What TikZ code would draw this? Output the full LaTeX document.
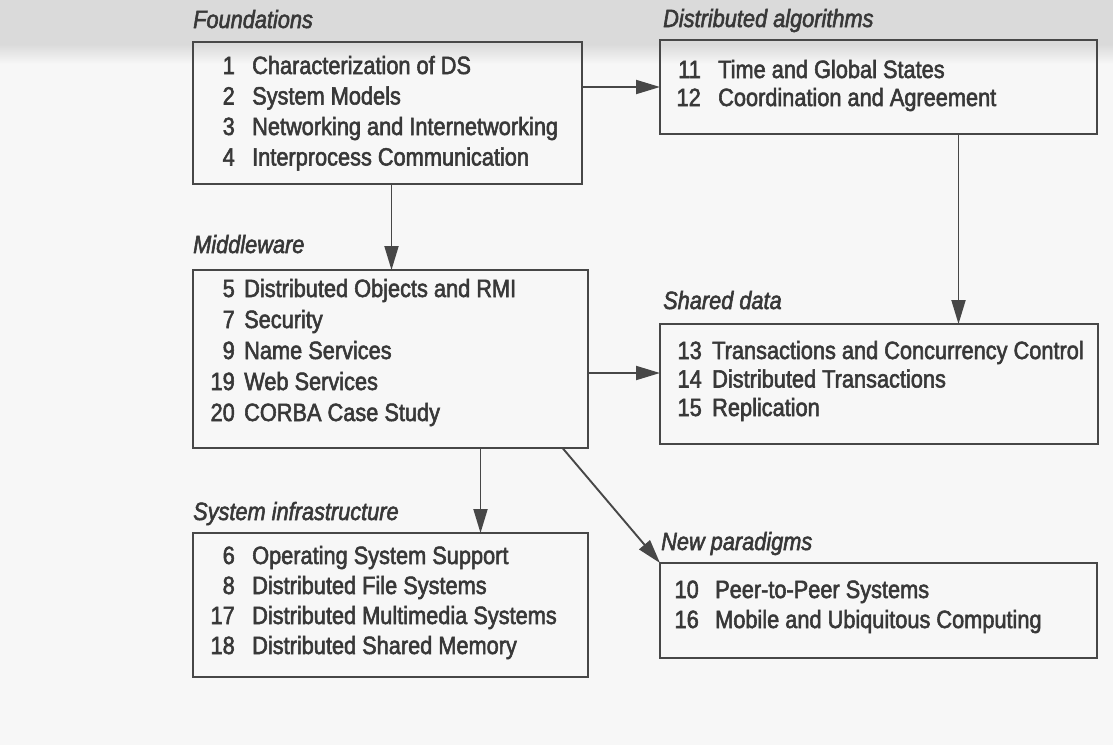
\documentclass[tikz,border=0pt]{standalone}
\usepackage{fontspec}
\usetikzlibrary{arrows.meta}
\newfontfamily\dgfont[FakeStretch=0.87,FakeBold=2.2]{Liberation Sans}
\definecolor{ink}{HTML}{383838}
\definecolor{lineclr}{HTML}{474747}
\definecolor{paper}{HTML}{F7F7F7}
\definecolor{band}{HTML}{DADADA}
\tikzset{
  box/.style={draw=lineclr,line width=1.9pt,anchor=north west,inner sep=0pt,outer sep=0pt},
  ttl/.style={anchor=base west,inner sep=0pt,text=ink,font=\dgfont\itshape\fontsize{25}{30}\selectfont},
  nums/.style={anchor=base east,inner sep=0pt,text=ink,font=\dgfont\fontsize{25}{#1}\selectfont},
  items/.style={anchor=base west,inner sep=0pt,text=ink,font=\dgfont\fontsize{25}{#1}\selectfont},
  arr/.style={draw=lineclr,line width=1.9pt,-{Triangle[length=24pt,width=14pt]}}
}
\begin{document}
\begin{tikzpicture}[x=1pt,y=-1pt]
\useasboundingbox (0,0) rectangle (1113,745);
\fill[paper] (0,0) rectangle (1113,745);
\fill[band] (0,0) rectangle (1113,44);
\shade[top color=band,bottom color=paper] (0,44) rectangle (1113,64);

% Foundations
\node[ttl] (t1) at (193,28) {Foundations};
\node[box,minimum width=389pt,minimum height=142pt] (found) at (193,42) {};
\node[nums=30.5] (n1) at (235,74) {\begin{tabular}[t]{@{}r@{}}1\\2\\3\\4\end{tabular}};
\node[items=30.5] (i1) at (252,74) {\begin{tabular}[t]{@{}l@{}}Characterization of DS\\System Models\\Networking and Internetworking\\Interprocess Communication\end{tabular}};

% Distributed algorithms
\node[ttl] (t2) at (663,27) {Distributed algorithms};
\node[box,minimum width=437pt,minimum height=94pt] (dist) at (660,40) {};
\node[nums=28] (n2) at (701,78) {\begin{tabular}[t]{@{}r@{}}11\\12\end{tabular}};
\node[items=28] (i2) at (718,78) {\begin{tabular}[t]{@{}l@{}}Time and Global States\\Coordination and Agreement\end{tabular}};

% Middleware
\node[ttl] (t3) at (193,253) {Middleware};
\node[box,minimum width=395pt,minimum height=178pt] (mw) at (193,270) {};
\node[nums=31] (n3) at (235,297) {\begin{tabular}[t]{@{}r@{}}5\\7\\9\\19\\20\end{tabular}};
\node[items=31] (i3) at (244,297) {\begin{tabular}[t]{@{}l@{}}Distributed Objects and RMI\\Security\\Name Services\\Web Services\\CORBA Case Study\end{tabular}};

% Shared data
\node[ttl] (t4) at (663,309) {Shared data};
\node[box,minimum width=438pt,minimum height=120pt] (shared) at (660,324) {};
\node[nums=28.5] (n4) at (702,359) {\begin{tabular}[t]{@{}r@{}}13\\14\\15\end{tabular}};
\node[items=28.5] (i4) at (712,359) {\begin{tabular}[t]{@{}l@{}}Transactions and Concurrency Control\\Distributed Transactions\\Replication\end{tabular}};

% System infrastructure
\node[ttl] (t5) at (193,520) {System infrastructure};
\node[box,minimum width=395pt,minimum height=144pt] (sys) at (193,533) {};
\node[nums=30] (n5) at (235,564) {\begin{tabular}[t]{@{}r@{}}6\\8\\17\\18\end{tabular}};
\node[items=30] (i5) at (252,564) {\begin{tabular}[t]{@{}l@{}}Operating System Support\\Distributed File Systems\\Distributed Multimedia Systems\\Distributed Shared Memory\end{tabular}};

% New paradigms
\node[ttl] (t6) at (661,550) {New paradigms};
\node[box,minimum width=437pt,minimum height=95pt] (np) at (660,563) {};
\node[nums=30] (n6) at (699,598) {\begin{tabular}[t]{@{}r@{}}10\\16\end{tabular}};
\node[items=30] (i6) at (715,598) {\begin{tabular}[t]{@{}l@{}}Peer-to-Peer Systems\\Mobile and Ubiquitous Computing\end{tabular}};

% connectors
\coordinate (a1) at ([yshift=26pt]found.east);
\draw[arr] (a1) -- (a1 -| dist.west);
\coordinate (a2) at ([xshift=4pt]found.south);
\draw[arr] (a2) -- (a2 |- mw.north);
\coordinate (a3) at ([xshift=80pt]dist.south);
\draw[arr] (a3) -- (a3 |- shared.north);
\coordinate (a4) at ([yshift=-14pt]mw.east);
\draw[arr] (a4) -- (a4 -| shared.west);
\coordinate (a5) at ([xshift=90pt]mw.south);
\draw[arr] (a5) -- (a5 |- sys.north);
\coordinate (a6) at ([xshift=172pt]mw.south);
\draw[arr] (a6) -- (np.north west);
\end{tikzpicture}
\end{document}
